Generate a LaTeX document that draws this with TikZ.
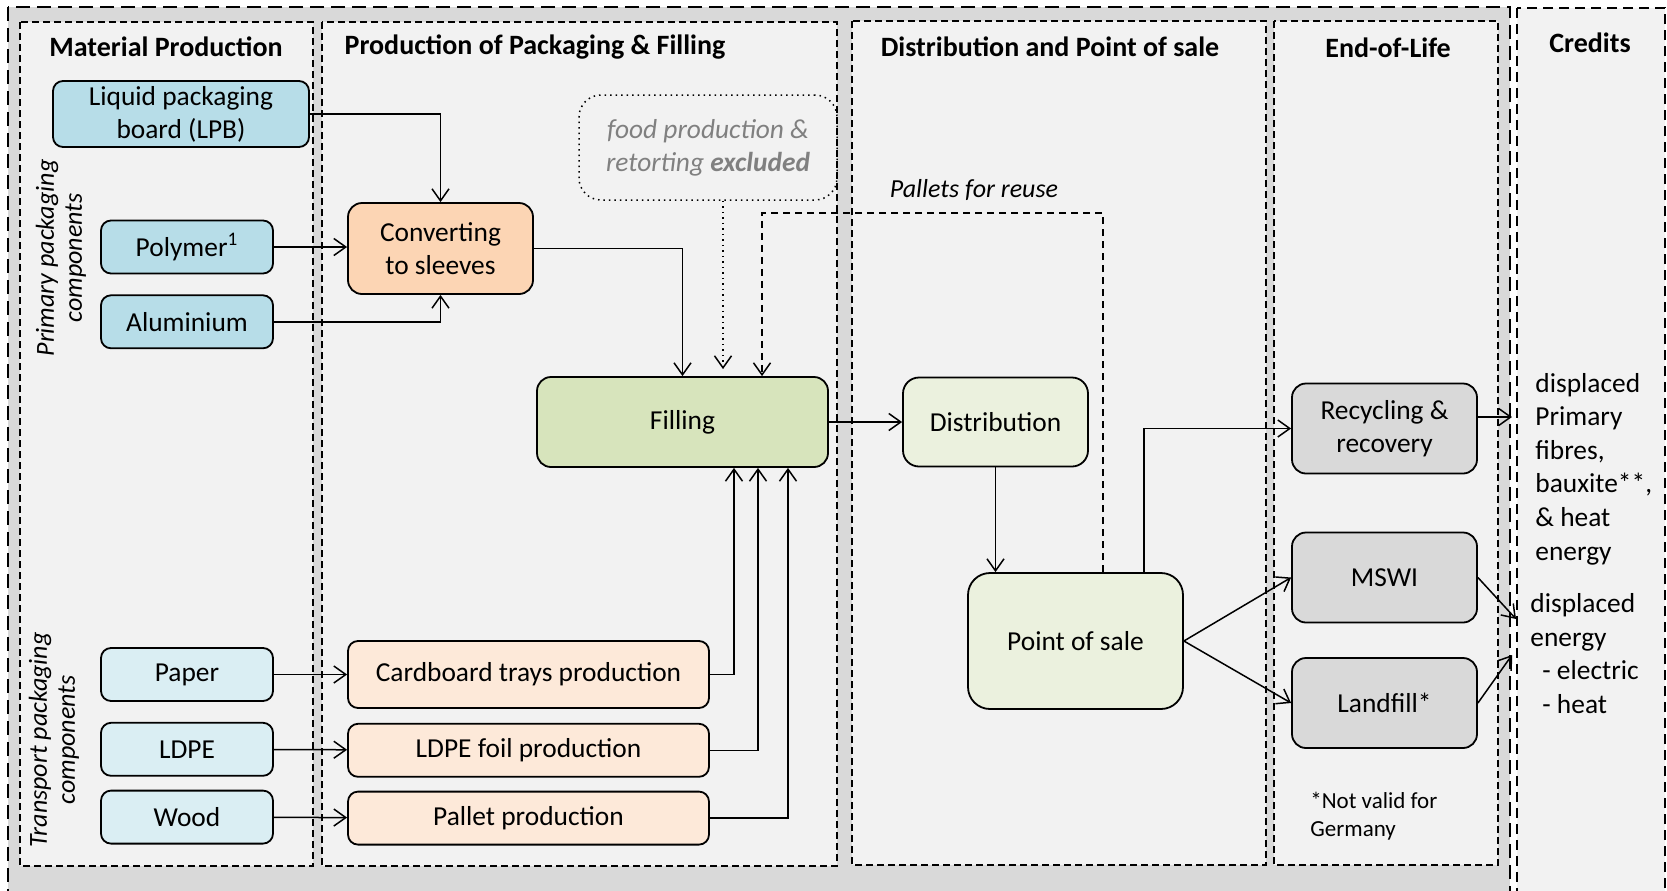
\documentclass[tikz,border=0pt]{standalone}
\usepackage{fontspec}
\setmainfont{Carlito}
\usepackage{xcolor}
\usepackage{tikz}
\usetikzlibrary{arrows.meta,positioning}

\definecolor{framegray}{HTML}{D9D9D9}
\definecolor{panelgray}{HTML}{F2F2F2}
\definecolor{primblue}{HTML}{B7DDE8}
\definecolor{transblue}{HTML}{DAEEF3}
\definecolor{convorange}{HTML}{FCD5B4}
\definecolor{transorange}{HTML}{FDE9D9}
\definecolor{fillgreen}{HTML}{D7E4BC}
\definecolor{distgreen}{HTML}{EBF1DE}
\definecolor{eolgray}{HTML}{D9D9D9}
\definecolor{foodgray}{HTML}{808080}

\begin{document}
\begin{tikzpicture}[
  x=0.5pt, y=-0.5pt,
  >={Straight Barb[length=6pt,width=8.5pt]},
  font=\fontsize{13.7}{16.5}\selectfont,
  outerframe/.style={draw=black, fill=framegray, line width=0.9pt, dash pattern=on 7pt off 3.5pt},
  panel/.style={draw=black, fill=panelgray, line width=0.9pt, dash pattern=on 3.5pt off 2pt},
  proc/.style={rectangle, rounded corners=5pt, draw=black, line width=0.9pt,
               align=center, inner sep=0pt},
  primbox/.style={proc, fill=primblue, minimum width=86pt, minimum height=26.5pt},
  transbox/.style={proc, fill=transblue, minimum width=86pt, minimum height=26.5pt},
  convbox/.style={proc, fill=convorange, rounded corners=7pt, minimum width=92.5pt, minimum height=45.5pt},
  tprodbox/.style={proc, fill=transorange, minimum width=180.5pt, minimum height=26.5pt},
  fillbox/.style={proc, fill=fillgreen, rounded corners=7pt, minimum width=145.5pt, minimum height=45pt},
  distbox/.style={proc, fill=distgreen, rounded corners=8pt, minimum width=92.5pt, minimum height=44.5pt},
  eolbox/.style={proc, fill=eolgray, rounded corners=7pt, minimum width=92.5pt, minimum height=45pt},
  foodbox/.style={rectangle, rounded corners=11pt, draw=black, dotted, line width=0.75pt,
                  minimum width=129pt, minimum height=52.5pt, align=center, text=foodgray,
                  font=\fontsize{13.7}{16.5}\selectfont\itshape},
  sectitle/.style={font=\fontsize{14}{17}\selectfont\bfseries},
  sidelabel/.style={rotate=90, align=center, inner sep=0pt, font=\fontsize{13}{14}\selectfont\itshape},
  credtext/.style={align=left, inner sep=0pt, font=\fontsize{13.7}{16.8}\selectfont},
  note/.style={align=left, inner sep=0pt, font=\fontsize{11.5}{14}\selectfont},
  flow/.style={->, line width=0.75pt},
  reuse/.style={flow, dash pattern=on 3.5pt off 2.5pt}
]

% --- Frame and panels ---
\useasboundingbox (0,0) rectangle (1667,890);
\clip (0,0) rectangle (1667,890);
\fill[white] (0,0) rectangle (1667,890);
\draw[outerframe] (8,7) rectangle (1510,910);
\draw[panel, dash pattern=on 5pt off 3pt] (1517,8) rectangle (1665,910);
\draw[panel] (20,22) rectangle (313,866);
\draw[panel] (322,22) rectangle (837,866);
\draw[panel] (852,21) rectangle (1266,865);
\draw[panel] (1274,21) rectangle (1498,865);

% --- Section titles ---
\node[sectitle] (tMat)  at (166,47)  {Material Production};
\node[sectitle] (tProd) at (535,47)  {Production of Packaging \& Filling};
\node[sectitle] (tDist) at (1050,47) {Distribution and Point of sale};
\node[sectitle] (tEoL)  at (1388,48) {End-of-Life};
\node[sectitle] (tCred) at (1590,43) {Credits};

% --- Material production ---
\node[primbox, minimum width=128pt, minimum height=33pt] (LPB) at (181,114) {Liquid packaging\\board (LPB)};
\node[primbox]                    (POLY)  at (187,247) {Polymer\textsuperscript{1}};
\node[primbox, below=10pt of POLY] (ALU)  {Aluminium};
\node[transbox]                   (PAPER) at (187,674.5) {Paper};
\node[transbox, below=10pt of PAPER] (LDPE) {LDPE};
\node[transbox, below=6.5pt of LDPE] (WOOD) {Wood};
\node[sidelabel] (PRIMLBL)  at (61,258) {Primary packaging\\components};
\node[sidelabel] (TRANSLBL) at (54,740) {Transport packaging\\components};

% --- Packaging and filling ---
\node[convbox] (CONV) at (440.5,248.5) {Converting\\to sleeves};
\node[foodbox] (FOOD) at (708,147.5) {food production \&\\retorting \textbf{excluded}};
\node[fillbox] (FILL) at (682.5,422) {Filling};
\node[tprodbox, minimum height=33.5pt] (CARD) at (528.5,674.5) {Cardboard trays production};
\node[tprodbox, below=7pt of CARD] (FOIL) {LDPE foil production};
\node[tprodbox, below=6.5pt of FOIL] (PALP) {Pallet production};

% --- Distribution and end-of-life ---
\node[distbox] (DIST) at (995.5,422) {Distribution};
\node[distbox, rounded corners=11pt, minimum width=107.5pt, minimum height=68pt] (POS) at (1075.5,641) {Point of sale};
\node[eolbox] (REC)  at (1384.5,428.5) {Recycling \&\\recovery};
\node[eolbox] (MSWI) at (1384.5,577.5) {MSWI};
\node[eolbox] (LAND) at (1384.5,703)   {Landfill*};
\node[note, anchor=west] (NOTE) at (1310,816) {*Not valid for\\Germany};
\node[font=\fontsize{13}{15}\selectfont\itshape] (PALLBL) at (974,190) {Pallets for reuse};

% --- Credits ---
\node[credtext, anchor=west] (CRED1) at (1535,469) {displaced\\Primary\\fibres,\\bauxite**,\\\& heat\\energy};
\node[credtext, anchor=west] (CRED2) at (1530,653.5) {displaced\\energy\\\hspace*{6pt}- electric\\\hspace*{6pt}- heat};
\coordinate (c1) at (1512,417);
\coordinate (c2) at (1516,619);
\coordinate (c3) at (1512,655);

% --- Inlets on filling ---
\coordinate (inFood) at ([xshift=20.25pt, yshift=3.5pt]FILL.north);
\coordinate (inPal)  at ([xshift=39.75pt]FILL.north);
\coordinate (palTop) at (1103,213);

% --- Flows ---
\draw[flow] (LPB.east) -| (CONV.north);
\draw[flow] (POLY.east) -- (POLY.east -| CONV.west);
\draw[flow] (ALU.east) -| (CONV.south);
\draw[flow] (CONV.east) -| (FILL.north);
\draw[flow, dotted] (FOOD.south -| inFood) -- (inFood);
\draw[reuse] (POS.north -| palTop) -- (palTop) -| (inPal);
\draw[flow] (CARD.east) -| ([xshift=25.75pt]FILL.south);
\draw[flow] (FOIL.east) -| ([xshift=37.75pt]FILL.south);
\draw[flow] (PALP.east) -| ([xshift=52.75pt]FILL.south);
\draw[flow] (DIST.south) -- (DIST.south |- POS.north);
\draw[flow] ([xshift=34.25pt]POS.north) |- (REC.west);
\draw[flow] (REC.east |- c1) -- (c1);

\path[flow]
  (PAPER) edge (CARD)
  (LDPE)  edge (FOIL)
  (WOOD)  edge (PALP)
  (FILL)  edge (DIST)
  (POS.east)  edge (MSWI.west)
  (POS.east)  edge (LAND.west)
  (MSWI.east) edge (c2)
  (LAND.east) edge (c3);

\end{tikzpicture}
\end{document}
